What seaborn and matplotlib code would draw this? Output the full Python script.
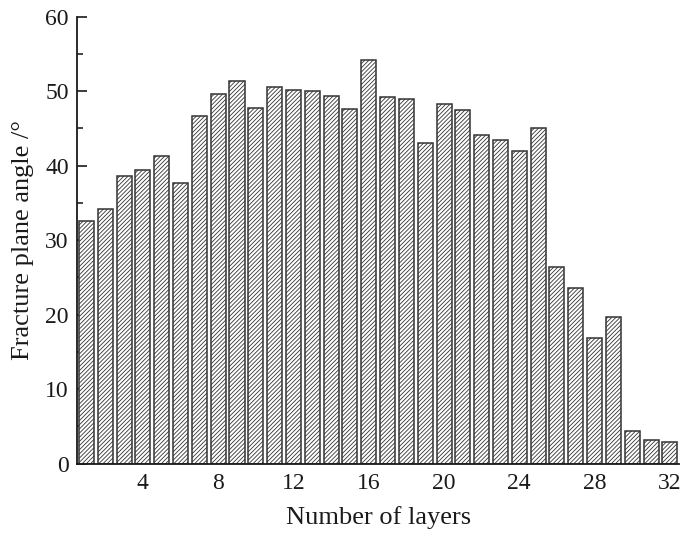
import matplotlib
matplotlib.use("Agg")
import matplotlib.pyplot as plt
import seaborn as sns
import pandas as pd
from matplotlib.ticker import MultipleLocator

layers = list(range(1, 33))
angles = [32.5, 34.2, 38.6, 39.4, 41.3, 37.6, 46.6, 49.6, 51.4, 47.7,
          50.5, 50.2, 50.0, 49.4, 47.6, 54.2, 49.2, 48.9, 43.0, 48.2,
          47.5, 44.1, 43.4, 42.0, 45.1, 26.4, 23.6, 16.9, 19.7, 4.4,
          3.2, 2.9]
x_ticks = [4, 8, 12, 16, 20, 24, 28, 32]
y_ticks = [0, 10, 20, 30, 40, 50, 60]

df = pd.DataFrame({"layers": layers, "angle": angles})

sns.set_theme(style="white")
plt.rcParams['font.family'] = ['Liberation Serif', 'DejaVu Serif']
plt.rcParams['hatch.linewidth'] = 0.6
plt.rcParams['hatch.color'] = '#444444'

fig = plt.figure(figsize=(6.82, 5.33), dpi=100)
ax = fig.add_axes([0.113, 0.130, 0.883, 0.839])

sns.barplot(data=df, x="layers", y="angle", native_scale=True, width=0.8,
            color="white", edgecolor="#333333", linewidth=1.1,
            hatch="////////", ax=ax, errorbar=None)

ax.set_xlim(0.5, 32.5)
ax.set_ylim(0, 60)
ax.set_xticks(x_ticks)
ax.set_yticks(y_ticks)
ax.xaxis.set_minor_locator(MultipleLocator(2))
ax.yaxis.set_minor_locator(MultipleLocator(5))
ax.tick_params(axis='both', which='major', direction='in', length=7, width=1.2,
               labelsize=17, colors='#1a1a1a', bottom=True, left=True)
ax.tick_params(axis='both', which='minor', direction='in', length=4, width=1.2,
               bottom=True, left=True)
ax.tick_params(axis='x', pad=7)
ax.tick_params(axis='y', pad=6)

for s in ['top', 'right']:
    ax.spines[s].set_visible(False)
for s in ['left', 'bottom']:
    ax.spines[s].set_color('#1a1a1a')
    ax.spines[s].set_linewidth(1.3)

ax.set_xlabel("Number of layers", fontsize=19, color='#1a1a1a', labelpad=8)
ax.set_ylabel("Fracture plane angle /°", fontsize=19, color='#1a1a1a', labelpad=8)

fig.savefig("out.png", dpi=100)
